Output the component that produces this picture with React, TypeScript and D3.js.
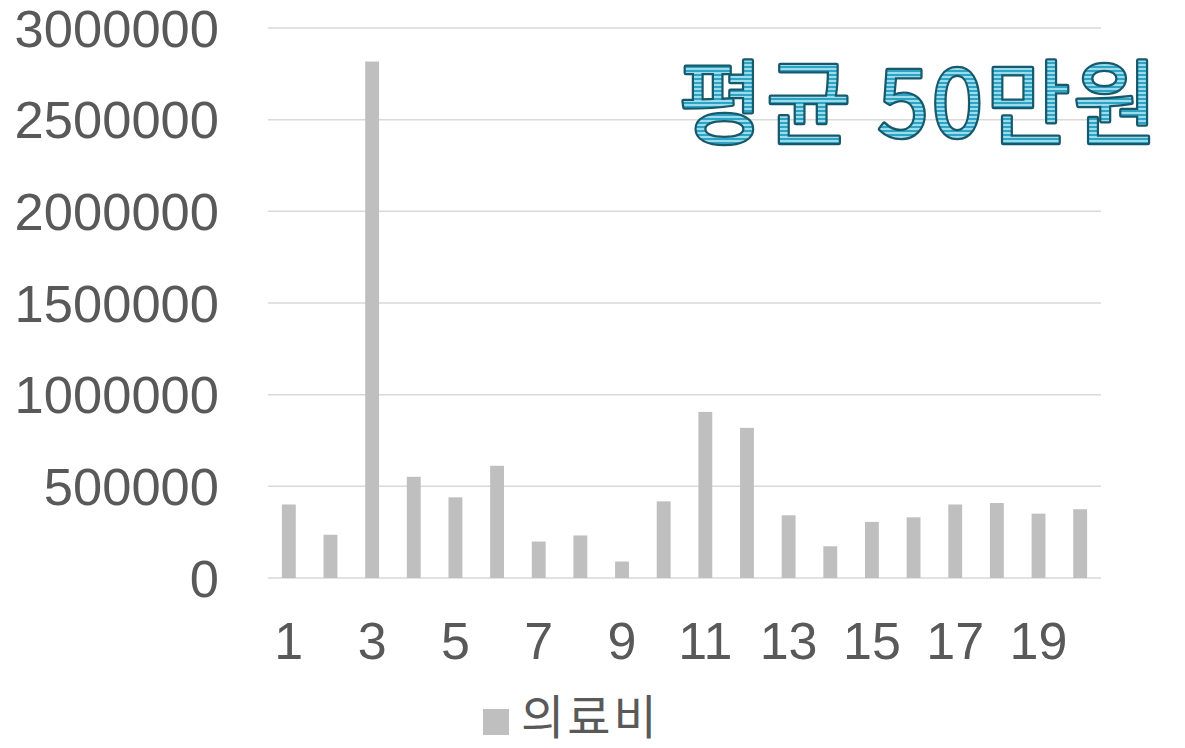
import React from "react";
import * as d3 from "d3";

// 의료비 per case (won)
const categories = d3.range(1, 21).map(String);
const medicalCost = [
  401000, 236000, 2817000, 552000, 440000, 612000, 199000, 232000, 90000, 418000,
  906000, 819000, 342000, 173000, 306000, 331000, 401000, 409000, 351000, 375000,
];
const yTicks = [0, 500000, 1000000, 1500000, 2000000, 2500000, 3000000];
const xTickLabels = ["1", "3", "5", "7", "9", "11", "13", "15", "17", "19"];
const seriesName = "의료비";
const titleText = "평균 50만원";

const W = 1185,
  H = 748;
const plot = { left: 268, right: 1101, top: 28, bottom: 578 };

const App = () => {
  const x = d3.scaleBand().domain(categories).range([plot.left, plot.right]).padding(0);
  const y = d3.scaleLinear().domain([0, 3000000]).range([plot.bottom, plot.top]);
  const barW = x.bandwidth() / 3;
  const axisFont = "'Liberation Sans', Arial, sans-serif";
  const korFont = "'Noto Sans CJK KR', 'Noto Sans', sans-serif";

  return (
    <div style={{ position: "absolute", left: 0, top: 0 }}>
      <svg width={W} height={H} style={{ display: "block", background: "#fff" }}>
        <defs>
          <pattern id="stripes" width="8" height="4" patternUnits="userSpaceOnUse">
            <rect width="8" height="4" fill="#2fa3c4" />
            <rect width="8" height="2" fill="#9adcec" />
          </pattern>
        </defs>

        {/* gridlines */}
        {yTicks.map((t) => (
          <line
            key={t}
            x1={plot.left}
            x2={plot.right}
            y1={y(t)}
            y2={y(t)}
            stroke="#d9d9d9"
            strokeWidth={1.5}
          />
        ))}

        {/* y labels */}
        {yTicks.map((t) => (
          <text
            key={"yl" + t}
            x={219}
            y={y(t)}
            textAnchor="end"
            dominantBaseline="central"
            fontFamily={axisFont}
            fontSize={52.5}
            fill="#595959"
          >
            {t}
          </text>
        ))}

        {/* bars */}
        {medicalCost.map((v, i) => (
          <rect
            key={i}
            x={x(categories[i])! + x.bandwidth() / 2 - barW / 2}
            y={y(v)}
            width={barW}
            height={y(0) - y(v)}
            fill="#bfbfbf"
          />
        ))}

        {/* x labels */}
        {xTickLabels.map((l) => (
          <text
            key={"xl" + l}
            x={x(l)! + x.bandwidth() / 2}
            y={659}
            textAnchor="middle"
            fontFamily={axisFont}
            fontSize={52}
            fill="#595959"
          >
            {l}
          </text>
        ))}

        {/* title */}
        <text
          x={1161}
          y={137}
          textAnchor="end"
          fontFamily={korFont}
          fontWeight={400}
          fontSize={92}
          letterSpacing={3}
          fill="url(#stripes)"
          stroke="#17596b"
          strokeWidth={4.5}
          strokeLinejoin="round"
          style={{ paintOrder: "stroke" }}
        >
          {titleText}
        </text>

        {/* legend */}
        <rect x={483} y={709} width={26} height={26} fill="#bfbfbf" />
        <text
          x={521}
          y={734}
          fontFamily={korFont}
          fontSize={47}
          letterSpacing={3}
          fill="#595959"
        >
          {seriesName}
        </text>
      </svg>
    </div>
  );
};

export default App;
